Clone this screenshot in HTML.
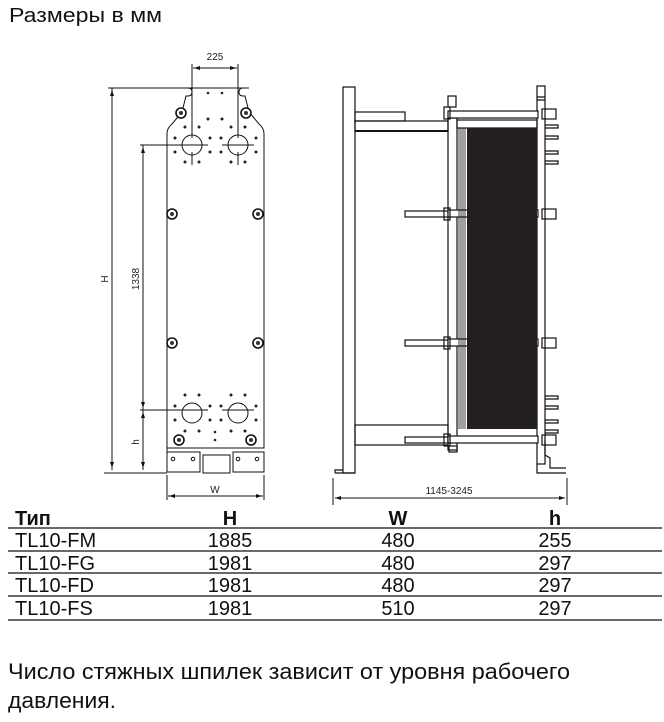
<!DOCTYPE html>
<html><head><meta charset="utf-8"><style>
html,body{margin:0;padding:0;background:#fff}
svg{display:block}
text{font-family:"Liberation Sans",sans-serif}
</style></head><body>
<svg width="664" height="722" viewBox="0 0 664 722" xmlns="http://www.w3.org/2000/svg">
<text x="9" y="22" font-size="20" fill="#111" textLength="153" lengthAdjust="spacingAndGlyphs">Размеры в мм</text>

<g stroke="#111" fill="none" stroke-width="1">
<path d="M182,88 L188,88 Q192,88 192,92 Q192,96 188,96 L186,96 L182,112 L172,124 Q167,128 167,134 L167,448 L264,448 L264,134 Q264,128 259,124 L249,112 L245,96 L243,96 Q239,96 239,92 Q239,88 243,88 L249,88"/>
<path d="M188,88 L243,88"/>
<circle cx="192" cy="145" r="10"/><circle cx="238" cy="145" r="10"/>
<circle cx="192" cy="413" r="10"/><circle cx="238" cy="413" r="10"/>
<path d="M192,64 V138 M192,152 V165 M238,64 V138 M238,152 V165"/>
<path d="M140,145 H208 M222,145 H254 M140,410 H208 M222,410 H254"/>
<path d="M167,448 V472 H200 V452 H167 M233,452 H264 V472 H233 Z M203,455 H230 V473 H203 Z"/>
<circle cx="173" cy="459" r="1.8"/><circle cx="193" cy="459" r="1.8"/>
<circle cx="238" cy="459" r="1.8"/><circle cx="257" cy="459" r="1.8"/>
<path d="M193,68 H237 M108,88 H182 M112,88 V470 M104,473 H167 M143,145 V470 M167,475 V500 M264,475 V500 M168,496 H263"/>
</g>
<g fill="#111">
<path d="M194,68 l6,-2 v4z M236,68 l-6,-2 v4z M112,90 l-2,6 h4z M112,468 l-2,-6 h4z M143,147 l-2,6 h4z M143,408 l-2,-6 h4z M143,412 l-2,6 h4z M143,468 l-2,-6 h4z M169,496 l6,-2 v4z M262,496 l-6,-2 v4z"/>
</g>
<g fill="#fff" stroke="#111" stroke-width="1.6">
<circle cx="181" cy="113" r="5"/><circle cx="246" cy="113" r="5"/>
<circle cx="172" cy="214" r="5"/><circle cx="258" cy="214" r="5"/>
<circle cx="172" cy="343" r="5"/><circle cx="258" cy="343" r="5"/>
<circle cx="179" cy="440" r="5"/><circle cx="251" cy="440" r="5"/>
</g>
<g fill="#333">
<circle cx="181" cy="113" r="2"/><circle cx="246" cy="113" r="2"/>
<circle cx="172" cy="214" r="2"/><circle cx="258" cy="214" r="2"/>
<circle cx="172" cy="343" r="2"/><circle cx="258" cy="343" r="2"/>
<circle cx="179" cy="440" r="2"/><circle cx="251" cy="440" r="2"/>
</g>
<g fill="#222">
<circle cx="208" cy="93" r="1.3"/><circle cx="222" cy="93" r="1.3"/>
<circle cx="208" cy="119" r="1.5"/><circle cx="222" cy="119" r="1.5"/>
<circle cx="185" cy="127" r="1.5"/><circle cx="199" cy="127" r="1.5"/><circle cx="231" cy="127" r="1.5"/><circle cx="245" cy="127" r="1.5"/>
<circle cx="175" cy="138" r="1.5"/><circle cx="210" cy="138" r="1.5"/><circle cx="221" cy="138" r="1.5"/><circle cx="256" cy="138" r="1.5"/>
<circle cx="175" cy="152" r="1.5"/><circle cx="210" cy="152" r="1.5"/><circle cx="221" cy="152" r="1.5"/><circle cx="256" cy="152" r="1.5"/>
<circle cx="185" cy="162" r="1.5"/><circle cx="199" cy="162" r="1.5"/><circle cx="231" cy="162" r="1.5"/><circle cx="245" cy="162" r="1.5"/>
<circle cx="185" cy="395" r="1.5"/><circle cx="199" cy="395" r="1.5"/><circle cx="231" cy="395" r="1.5"/><circle cx="245" cy="395" r="1.5"/>
<circle cx="175" cy="406" r="1.5"/><circle cx="210" cy="406" r="1.5"/><circle cx="221" cy="406" r="1.5"/><circle cx="256" cy="406" r="1.5"/>
<circle cx="175" cy="420" r="1.5"/><circle cx="210" cy="420" r="1.5"/><circle cx="221" cy="420" r="1.5"/><circle cx="256" cy="420" r="1.5"/>
<circle cx="185" cy="431" r="1.5"/><circle cx="199" cy="431" r="1.5"/><circle cx="231" cy="431" r="1.5"/><circle cx="245" cy="431" r="1.5"/>
<circle cx="215" cy="432" r="1.3"/><circle cx="215" cy="440" r="1.3"/>
</g>
<text x="215" y="60" font-size="10" text-anchor="middle" fill="#222">225</text>
<text x="108" y="279" font-size="10" text-anchor="middle" fill="#222" transform="rotate(-90 108 279)">H</text>
<text x="139" y="279" font-size="10" text-anchor="middle" fill="#222" transform="rotate(-90 139 279)">1338</text>
<text x="139" y="442" font-size="10" text-anchor="middle" fill="#222" transform="rotate(-90 139 442)">h</text>
<text x="215" y="493" font-size="10" text-anchor="middle" fill="#222">W</text>

<g stroke="#111" fill="none" stroke-width="1.2">
<rect x="343" y="87" width="12" height="386"/>
<path d="M335,473 V470 H343 M335,473 H355"/>
<rect x="355" y="112" width="50" height="9"/>
<rect x="355" y="121" width="93" height="10"/>
<path d="M355,131 H448" stroke-width="2"/>
<rect x="355" y="425" width="93" height="20"/>
<rect x="448" y="118" width="9" height="332"/>
<rect x="537" y="86" width="8" height="378"/>
<path d="M537,97 H545 M537,100 H545"/>
<path d="M545,440 V455 L550,458 V468 H566 M537,464 V473 H566"/>
<rect x="457" y="120" width="80" height="8"/>
<rect x="405" y="211" width="45" height="6"/>
<rect x="405" y="340" width="45" height="6"/>
<rect x="405" y="437" width="45" height="6"/>
<rect x="448" y="111" width="90" height="7" fill="#fff"/>
<rect x="448" y="210" width="90" height="7" fill="#fff"/>
<rect x="448" y="339" width="90" height="7" fill="#fff"/>
<rect x="448" y="436" width="90" height="7" fill="#fff"/>
<rect x="444" y="107" width="6" height="12"/><rect x="448" y="96" width="8" height="11"/>
<rect x="444" y="208" width="6" height="12"/><rect x="444" y="337" width="6" height="12"/><rect x="444" y="434" width="6" height="12"/>
<rect x="449" y="446" width="8" height="6"/>
<rect x="542" y="109" width="14" height="10"/><rect x="542" y="209" width="14" height="10"/>
<rect x="542" y="338" width="14" height="10"/><rect x="542" y="435" width="14" height="10"/>
<path d="M545,125 H558 V128 H545 M545,136 H558 V139 H545 M545,151 H558 V154 H545 M545,161 H558 V164 H545 M545,396 H558 V399 H545 M545,406 H558 V409 H545 M545,420 H558 V423 H545 M545,430 H558 V433 H545"/>
</g>
<rect x="467" y="128" width="70" height="301" fill="#231f20"/>
<g stroke="#111" stroke-width="0.8">
<path d="M459,128 V429 M461,128 V429 M463,128 V429 M465,128 V429"/>
</g>
<g stroke="#111" stroke-width="1" fill="none">
<path d="M333,478 V505 M567,478 V505 M335,498 H565"/>
</g>
<g fill="#111"><path d="M335,498 l6,-2 v4z M565,498 l-6,-2 v4z"/></g>
<text x="449" y="494" font-size="10" text-anchor="middle" fill="#222">1145-3245</text>

<g stroke="#111" stroke-width="1.3">
<path d="M8,528 H662 M8,551 H662 M8,573 H662 M8,596 H662 M8,620 H662"/>
</g>
<g font-size="20" fill="#111">
<text x="15" y="525" font-weight="bold">Тип</text>
<text x="230" y="525" font-weight="bold" text-anchor="middle">H</text>
<text x="398" y="525" font-weight="bold" text-anchor="middle">W</text>
<text x="555" y="525" font-weight="bold" text-anchor="middle">h</text>
<text x="15" y="547">TL10-FM</text><text x="230" y="547" text-anchor="middle">1885</text><text x="398" y="547" text-anchor="middle">480</text><text x="555" y="547" text-anchor="middle">255</text>
<text x="15" y="570">TL10-FG</text><text x="230" y="570" text-anchor="middle">1981</text><text x="398" y="570" text-anchor="middle">480</text><text x="555" y="570" text-anchor="middle">297</text>
<text x="15" y="592">TL10-FD</text><text x="230" y="592" text-anchor="middle">1981</text><text x="398" y="592" text-anchor="middle">480</text><text x="555" y="592" text-anchor="middle">297</text>
<text x="15" y="615">TL10-FS</text><text x="230" y="615" text-anchor="middle">1981</text><text x="398" y="615" text-anchor="middle">510</text><text x="555" y="615" text-anchor="middle">297</text>
</g>
<text x="8" y="679" font-size="22" fill="#111" textLength="562" lengthAdjust="spacingAndGlyphs">Число стяжных шпилек зависит от уровня рабочего</text>
<text x="8" y="708" font-size="22" fill="#111" textLength="108" lengthAdjust="spacingAndGlyphs">давления.</text>
</svg>
</body></html>
